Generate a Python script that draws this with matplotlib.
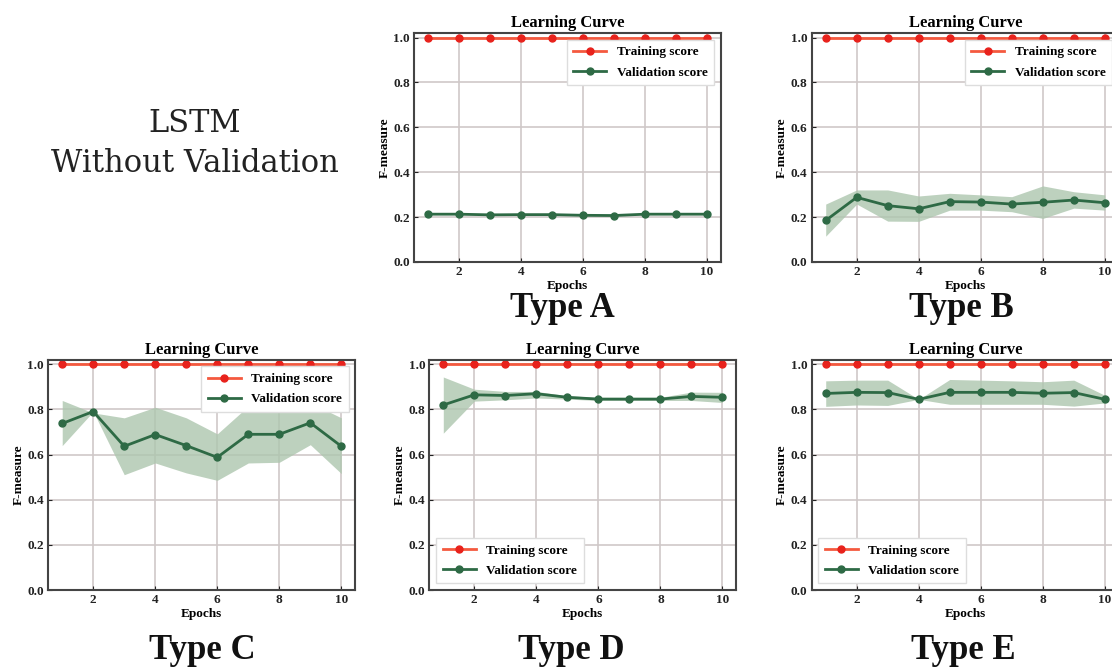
import numpy as np
from matplotlib import pyplot as plt

plt.rc("font", family="Liberation Serif", weight="bold", size=9.5)
plt.rc("axes", labelweight="bold")

epochs = np.arange(1, 11)
train = [1.0] * 10

# validation score, mean and band (mean +- std) per panel
val_a = [0.213, 0.213, 0.210, 0.211, 0.211, 0.208, 0.207, 0.213, 0.213, 0.213]
lo_a = [0.211, 0.211, 0.208, 0.209, 0.209, 0.206, 0.205, 0.211, 0.211, 0.211]
hi_a = [0.215, 0.215, 0.212, 0.213, 0.213, 0.210, 0.209, 0.215, 0.215, 0.215]

val_b = [0.185, 0.288, 0.251, 0.237, 0.269, 0.267, 0.258, 0.266, 0.276, 0.264]
lo_b = [0.115, 0.258, 0.182, 0.181, 0.231, 0.231, 0.224, 0.194, 0.240, 0.231]
hi_b = [0.258, 0.321, 0.321, 0.294, 0.306, 0.299, 0.291, 0.339, 0.313, 0.299]

val_c = [0.738, 0.791, 0.637, 0.689, 0.640, 0.588, 0.690, 0.690, 0.741, 0.637]
lo_c = [0.640, 0.791, 0.511, 0.563, 0.519, 0.486, 0.563, 0.566, 0.644, 0.516]
hi_c = [0.840, 0.785, 0.763, 0.810, 0.763, 0.692, 0.815, 0.815, 0.830, 0.763]

val_d = [0.820, 0.865, 0.862, 0.870, 0.854, 0.846, 0.846, 0.846, 0.858, 0.854]
lo_d = [0.695, 0.837, 0.843, 0.851, 0.846, 0.840, 0.840, 0.840, 0.840, 0.831]
hi_d = [0.944, 0.890, 0.880, 0.880, 0.861, 0.854, 0.854, 0.854, 0.877, 0.876]

val_e = [0.871, 0.876, 0.875, 0.845, 0.876, 0.876, 0.876, 0.872, 0.875, 0.845]
lo_e = [0.814, 0.820, 0.818, 0.845, 0.823, 0.823, 0.823, 0.823, 0.815, 0.829]
hi_e = [0.927, 0.930, 0.930, 0.845, 0.933, 0.930, 0.927, 0.923, 0.930, 0.863]

# name, axes rect, label baseline position (axes fraction), data, legend loc
panels = [
    ("Type A", [0.3723, 0.6072, 0.2761, 0.3433], (0.484, -0.240),
     val_a, lo_a, hi_a, "upper right"),
    ("Type B", [0.7300, 0.6072, 0.2761, 0.3433], (0.486, -0.240),
     val_b, lo_b, hi_b, "upper right"),
    ("Type C", [0.0434, 0.1154, 0.2761, 0.3451], (0.501, -0.298),
     val_c, lo_c, hi_c, "upper right"),
    ("Type D", [0.3861, 0.1154, 0.2761, 0.3451], (0.462, -0.298),
     val_d, lo_d, hi_d, "lower left"),
    ("Type E", [0.7300, 0.1154, 0.2761, 0.3451], (0.495, -0.298),
     val_e, lo_e, hi_e, "lower left"),
]

fig = plt.figure(figsize=(11.12, 6.67), dpi=100)

for name, pos, lpos, val, lo, hi, loc in panels:
    ax = fig.add_axes(pos)
    ax.fill_between(epochs, lo, hi, color="#adc6ae", alpha=0.8, lw=0)
    ax.plot(epochs, train, "o-", color="#f4593f", mfc="#e8221c", mec="#e8221c",
            ms=5, lw=2, label="Training score")
    ax.plot(epochs, val, "o-", color="#2e6a45", ms=5, lw=2,
            label="Validation score")
    ax.set_xlim(0.55, 10.45)
    ax.set_ylim(0, 1.02)
    ax.set_xticks([2, 4, 6, 8, 10])
    ax.set_yticks([0.0, 0.2, 0.4, 0.6, 0.8, 1.0])
    ax.set_yticklabels(["0.0", "0.2", "0.4", "0.6", "0.8", "1.0"])
    ax.grid(True, color="#cfc8c8", lw=1.2)
    ax.set_axisbelow(True)
    ax.tick_params(direction="in", length=3, pad=3, colors="#222")
    for s in ax.spines.values():
        s.set_color("#444")
        s.set_linewidth(1.5)
    ax.set_title("Learning Curve", fontsize=12, fontweight="bold", pad=4)
    ax.set_xlabel("Epochs", labelpad=1)
    ax.set_ylabel("F-measure", labelpad=2)
    leg = ax.legend(loc=loc, fancybox=False, framealpha=1, edgecolor="#dddddd",
                    handlelength=2.5, borderpad=0.5, labelspacing=0.6)
    leg.get_frame().set_linewidth(1)
    # panel label under the axes
    ax.text(lpos[0], lpos[1], name, transform=ax.transAxes, ha="center",
            va="baseline", fontsize=25, fontweight="heavy", color="#111")

fig.text(0.1754, 0.785, "LSTM\nWithout Validation", ha="center", va="center",
         fontsize=22, fontweight="normal", family="DejaVu Serif",
         linespacing=1.35, color="#222")

fig.savefig("out.png", dpi=100)
